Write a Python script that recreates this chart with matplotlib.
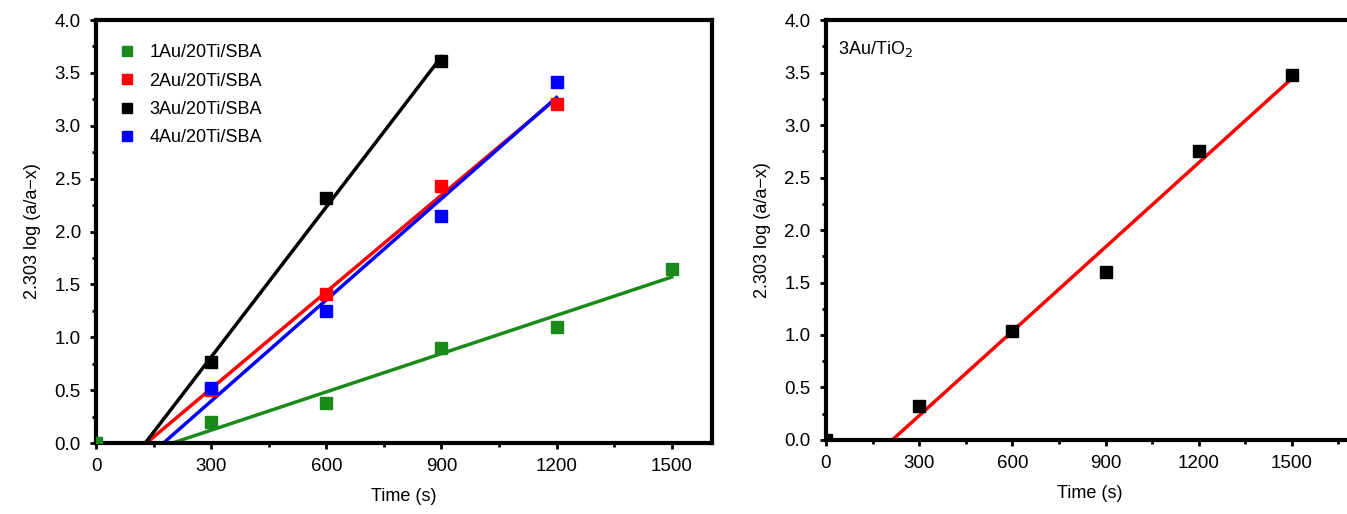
import matplotlib
matplotlib.use("Agg")
import matplotlib.pyplot as plt
import numpy as np
from matplotlib.ticker import MultipleLocator

plt.rcParams['font.family'] = ['Liberation Sans', 'DejaVu Sans']

# left panel data
time_sba = [0, 300, 600, 900, 1200, 1500]
labels_sba = ['1Au/20Ti/SBA', '2Au/20Ti/SBA', '3Au/20Ti/SBA', '4Au/20Ti/SBA']
colors_sba = ['#1a8a1a', '#ff0000', '#000000', '#0000ff']
y_1au = [0.0, 0.20, 0.38, 0.90, 1.10, 1.65]
y_2au = [None, 0.50, 1.41, 2.43, 3.21, None]
y_3au = [None, 0.77, 2.32, 3.61, None, None]
y_4au = [None, 0.52, 1.25, 2.15, 3.41, None]

# right panel data
time_tio2 = [0, 300, 600, 900, 1200, 1500]
y_tio2 = [0.0, 0.32, 1.04, 1.60, 2.75, 3.48]


def fit_line(ax, t, y, color, z=2):
    t = np.array(t, dtype=float)
    y = np.array([np.nan if v is None else v for v in y], dtype=float)
    m = (t > 0) & ~np.isnan(y)
    k, b = np.polyfit(t[m], y[m], 1)
    x0 = -b / k
    x1 = t[m].max()
    ax.plot([x0, x1], [0, k * x1 + b], color=color, lw=2.5, zorder=z)


def style(ax, xmax):
    ax.set_xlim(0, xmax)
    ax.set_ylim(0, 4.0)
    ax.set_xticks([0, 300, 600, 900, 1200, 1500])
    ax.set_yticks(np.arange(0, 4.01, 0.5))
    ax.yaxis.set_major_formatter(matplotlib.ticker.FormatStrFormatter('%.1f'))
    ax.xaxis.set_minor_locator(MultipleLocator(150))
    ax.yaxis.set_minor_locator(MultipleLocator(0.25))
    for s in ax.spines.values():
        s.set_linewidth(3)
    ax.tick_params(which='major', direction='out', length=4, width=2, labelsize=13.5, pad=7)
    ax.tick_params(which='minor', direction='out', length=3, width=2)
    ax.set_xlabel('Time (s)', fontsize=13, labelpad=9)
    ax.set_ylabel('2.303 log (a/a\u2212x)', fontsize=13, labelpad=10)


fig = plt.figure(figsize=(13.47, 5.14), dpi=100)
ax1 = fig.add_axes([0.0713, 0.138, 0.4573, 0.823])
ax2 = fig.add_axes([0.6132, 0.144, 0.392, 0.817])

series = [y_1au, y_2au, y_3au, y_4au]
# fit lines: red drawn over blue as in the original
for idx in [0, 2, 3, 1]:
    fit_line(ax1, time_sba, series[idx], colors_sba[idx], z=2 + idx * 0.01)
for ys, lab, c in zip(series, labels_sba, colors_sba):
    pts = [(t, v) for t, v in zip(time_sba, ys) if v is not None]
    ax1.plot([p[0] for p in pts], [p[1] for p in pts], 's', color=c,
             ms=8.5, label=lab, zorder=3)
style(ax1, 1605)
ax1.legend(loc='upper left', frameon=False, fontsize=13, handlelength=0.8,
           handletextpad=0.8, labelspacing=0.62, borderaxespad=0.6,
           markerscale=0.85, bbox_to_anchor=(0.01, 0.985))

fit_line(ax2, time_tio2, y_tio2, '#ff0000')
ax2.plot(time_tio2, y_tio2, 's', color='black', ms=8.5, zorder=3)
style(ax2, 1700)
ax2.text(0.023, 0.93, '3Au/TiO$_2$', transform=ax2.transAxes, fontsize=13,
         va='center', ha='left')

fig.savefig('out.png', dpi=100)
